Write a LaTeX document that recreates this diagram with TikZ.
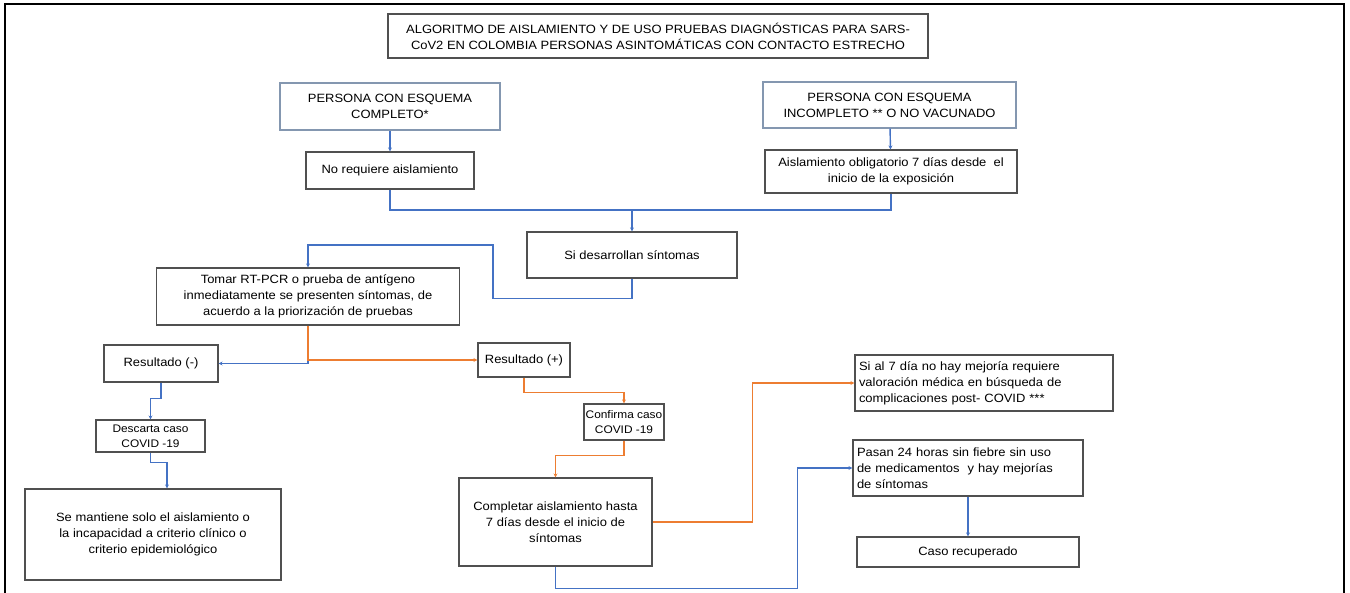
\documentclass[tikz,border=0pt]{standalone}
\usepackage{fontspec}
\setmainfont{Liberation Sans}[FakeStretch=1.08]
\usetikzlibrary{arrows.meta}

\definecolor{lineblue}{RGB}{68,114,196}
\definecolor{lineorange}{RGB}{237,125,49}
\definecolor{boxgray}{RGB}{80,80,80}
\definecolor{personblue}{RGB}{132,151,176}

\begin{document}
\begin{tikzpicture}[x=1pt,y=-1pt,
  box/.style={draw=boxgray,line width=1.1pt,fill=white,align=center,inner sep=3pt,
    font=\fontsize{12}{16}\selectfont},
  personbox/.style={box,draw=personblue},
  leftbox/.style={box,align=left},
  smallbox/.style={box,inner sep=0.5pt,font=\fontsize{11}{15}\selectfont},
  bline/.style={draw=lineblue,line width=1.4pt},
  oline/.style={draw=lineorange,line width=1.4pt},
  tip/.style={-{Stealth[length=4pt,width=4pt]}}]

\useasboundingbox (0,0) rectangle (1350,593);

%outer frame, open at the bottom
\draw[line width=1.6pt] (5,593) -- (5,4) -- (1344,4) -- (1344,593);

%title and starting groups
\node[box,minimum width=540,minimum height=44] (titulo) at (658,36)
  {ALGORITMO DE AISLAMIENTO Y DE USO PRUEBAS DIAGNÓSTICAS PARA SARS-\\CoV2 EN COLOMBIA PERSONAS ASINTOMÁTICAS CON CONTACTO ESTRECHO};
\node[personbox,minimum width=220,minimum height=47] (completo) at (390,106.5)
  {PERSONA CON ESQUEMA\\COMPLETO*};
\node[personbox,minimum width=253,minimum height=46] (incompleto) at (889.5,105)
  {PERSONA CON ESQUEMA\\INCOMPLETO ** O NO VACUNADO};

%isolation
\node[box,minimum width=168,minimum height=37] (noaisla) at (390,170.5)
  {No requiere aislamiento};
\node[box,minimum width=252,minimum height=43] (aisla) at (891,171.5)
  {Aislamiento obligatorio 7 días desde\ \ el\\inicio de la exposición};
\node[box,minimum width=210,minimum height=46] (sintomas) at (632,255)
  {Si desarrollan síntomas};
\node[box,minimum width=303,minimum height=57] (prueba) at (308,296.5)
  {Tomar RT-PCR o prueba de antígeno\\inmediatamente se presenten síntomas, de\\acuerdo a la priorización de pruebas};

%results
\node[box,minimum width=114,minimum height=37] (negativo) at (161,363.5) {Resultado (-)};
\node[box,minimum width=92,minimum height=34] (positivo) at (524,360) {Resultado (+)};
\node[smallbox,minimum width=109,minimum height=32] (descarta) at (150.5,436)
  {Descarta caso\\COVID -19};
\node[box,minimum width=256,minimum height=91] (mantiene) at (153,534.5)
  {Se mantiene solo el aislamiento o\\la incapacidad a criterio clínico o\\criterio epidemiológico};
\node[smallbox,minimum width=80,minimum height=36] (confirma) at (624,422)
  {Confirma caso\\COVID -19};
\node[box,minimum width=193,minimum height=88] (completar) at (555.5,522)
  {Completar aislamiento hasta\\7 días desde el inicio de\\síntomas};

%follow-up
\node[leftbox,minimum width=258,minimum height=56,text width=250] (mejoria) at (984,383)
  {Si al 7 día no hay mejoría requiere\\valoración médica en búsqueda de\\complicaciones post- COVID ***};
\node[leftbox,minimum width=230,minimum height=56,text width=222] (pasan) at (968,468)
  {Pasan 24 horas sin fiebre sin uso\\de medicamentos\ \ y hay mejorías\\de síntomas};
\node[box,minimum width=222,minimum height=30] (recuperado) at (968,552) {Caso recuperado};

%blue connectors
\draw[bline,tip] (completo) -- (noaisla);
\draw[bline,tip] (incompleto) -- (aisla);
\coordinate (junta) at (632,210);
\draw[bline] (noaisla.south) |- (junta) -| (aisla.south);
\draw[bline,tip] (junta) -- (sintomas.north);
\draw[bline,tip] (sintomas.south) -- ++(0,20) -| (493,245) -| (prueba.north);
\draw[bline,tip] (prueba.south |- positivo.west) |- (negativo.east);
\draw[bline,tip] (negativo.south) -- ++(0,16) -| (descarta.north);
\draw[bline,tip] (descarta.south) -- ++(0,10) -| ([xshift=14pt]mantiene.north);
\draw[bline,tip] (completar.south) -- ++(0,22) -- ++(242,0) |- (pasan.west);
\draw[bline,tip] (pasan) -- (recuperado);

%orange connectors
\draw[oline,tip] (prueba.south) |- (positivo.west);
\draw[oline,tip] (positivo.south) -- ++(0,15) -| (confirma.north);
\draw[oline,tip] (confirma.south) -- ++(0,15) -| (completar.north);
\draw[oline,tip] (completar.east) -- ++(100,0) |- (mejoria.west);
\end{tikzpicture}
\end{document}
